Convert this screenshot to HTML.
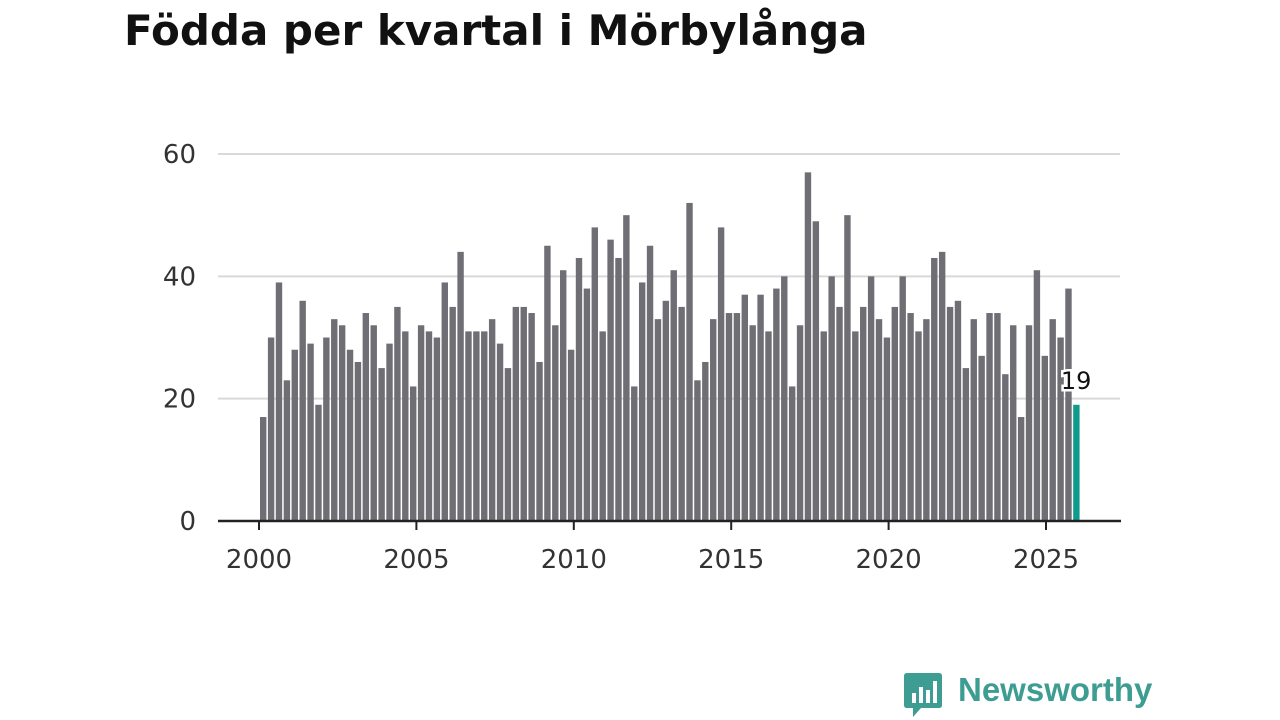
<!DOCTYPE html>
<html><head><meta charset="utf-8"><style>
body{margin:0;width:1280px;height:720px;background:#fff;overflow:hidden;font-family:"Liberation Sans","DejaVu Sans",sans-serif}
h1{position:absolute;left:124px;top:6px;margin:0;font-family:"DejaVu Sans",sans-serif;font-size:42px;font-weight:bold;color:#111;letter-spacing:0px;white-space:nowrap}
</style></head><body>
<h1>Födda per kvartal i Mörbylånga</h1>
<svg id="chart" width="1280" height="720" style="position:absolute;left:0;top:0"></svg>
<div style="position:absolute;left:903px;top:671px;height:48px">
<svg width="40" height="48" style="position:absolute;left:0;top:0">
<path d="M4 2 H36 Q39 2 39 5 V34 Q39 37 36 37 H18 L10 46 V37 H4 Q1 37 1 34 V5 Q1 2 4 2Z" fill="#3e9d93"/>
<rect x="9" y="22" width="4" height="10" fill="#fff"/><rect x="16" y="16" width="4" height="16" fill="#fff"/><rect x="23" y="19" width="4" height="13" fill="#fff"/><rect x="30" y="10" width="4" height="22" fill="#fff"/>
</svg>
<span style="position:absolute;left:55px;top:0px;font-size:33px;font-weight:bold;color:#3e9d93;white-space:nowrap">Newsworthy</span>
</div>
<script>
const years=[2000,2005,2010,2015,2020,2025];
const yTicks=[0,20,40,60];
const values=[17,30,39,23, 28,36,29,19, 30,33,32,28, 26,34,32,25, 29,35,31,22, 32,31,30,39, 35,44,31,31, 31,33,29,25, 35,35,34,26, 45,32,41,28, 43,38,48,31, 46,43,50,22, 39,45,33,36, 41,35,52,23, 26,33,48,34, 34,37,32,37, 31,38,40,22, 32,57,49,31, 40,35,50,31, 35,40,33,30, 35,40,34,31, 33,43,44,35, 36,25,33,27, 34,34,24,32, 17,32,41,27, 33,30,38,19];
const NS="http://www.w3.org/2000/svg";
const svg=document.getElementById('chart');
const y=v=>521-v*(367/60);
const xYear=t=>259+(t-2000)*31.48;
const xBar=i=>260+i*7.895;
function mk(tag,attrs){const e=document.createElementNS(NS,tag);for(const k in attrs)e.setAttribute(k,attrs[k]);svg.appendChild(e);return e;}
yTicks.forEach(t=>{
  if(t>0){const g=mk('line',{x1:218,x2:1120,y1:y(t),y2:y(t),stroke:'#d9d9d9','stroke-width':2});
  
  }
  const l=mk('text',{x:196,y:y(t)+9,'text-anchor':'end','font-size':26,'font-family':'DejaVu Sans, sans-serif',fill:'#333'});
  l.textContent=t;
  
  
});
values.forEach((v,i)=>{
  const last=i===values.length-1;
  const r=mk('rect',{x:xBar(i),y:y(v),width:6.4,height:521-y(v),fill:last?'#0f9a8e':'#6f6e74'});
  
  
  if(last){
    const lb=mk('text',{x:xBar(i)+3,y:y(v)-16,'text-anchor':'middle','font-size':24,'font-family':'DejaVu Sans, sans-serif',fill:'#111',stroke:'#fff','stroke-width':5,'paint-order':'stroke'});
    lb.textContent=v;
    
    
  }
});
const ax=mk('line',{x1:218,x2:1121,y1:521,y2:521,stroke:'#222','stroke-width':2.5});


years.forEach(t=>{
  const tk=mk('line',{x1:xYear(t),x2:xYear(t),y1:521,y2:530,stroke:'#222','stroke-width':2});
  
  
  const l=mk('text',{x:xYear(t),y:568,'text-anchor':'middle','font-size':26,'font-family':'DejaVu Sans, sans-serif',fill:'#333'});
  l.textContent=t;
  
  
});
</script>
</body></html>
